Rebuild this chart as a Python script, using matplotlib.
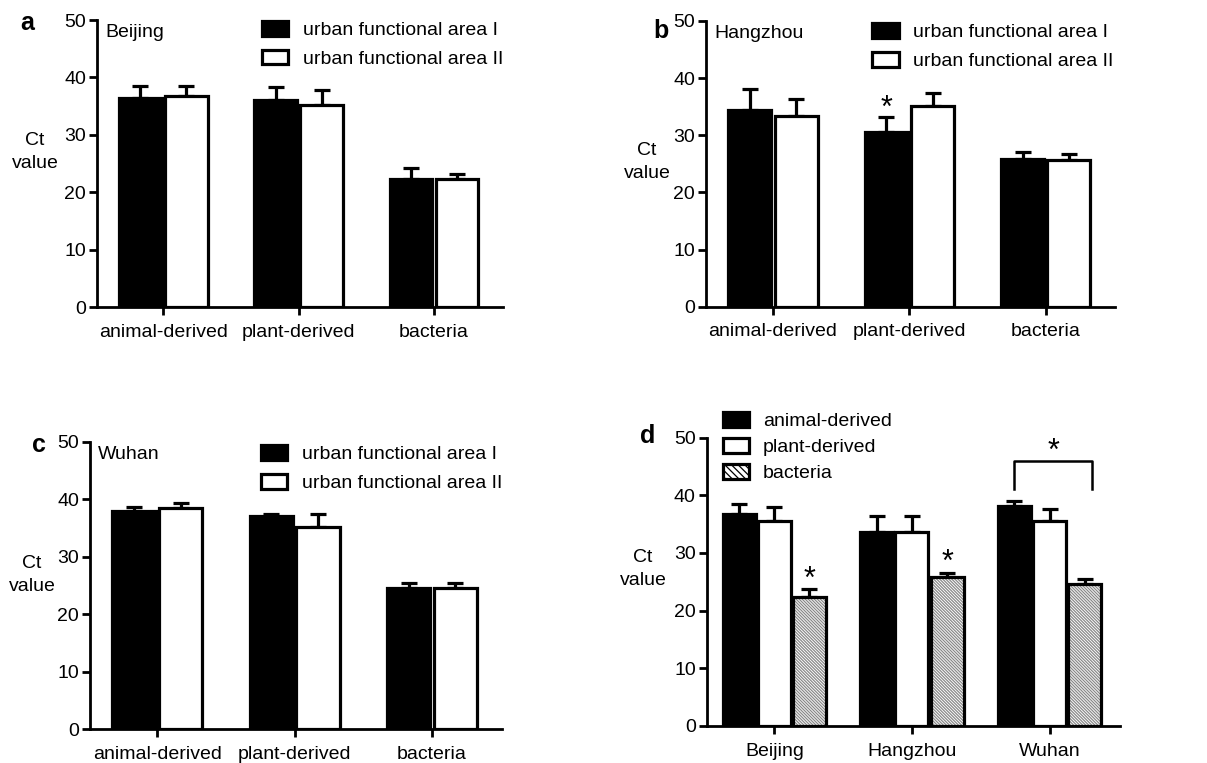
import numpy as np
import matplotlib
matplotlib.use("Agg")
import matplotlib.pyplot as plt
from matplotlib.patches import Patch

plt.rcParams['font.family'] = ['Liberation Sans', 'DejaVu Sans']
plt.rcParams['font.size'] = 14
plt.rcParams['hatch.linewidth'] = 0.9

# ── Podaci ───────────────────────────────────────────────────
tipovi = ["animal-derived", "plant-derived", "bacteria"]
gradovi = ["Beijing", "Hangzhou", "Wuhan"]
oblasti = ["urban functional area I", "urban functional area II"]

# Ct vrednosti (srednja vrednost) i gornja greska, po gradu: [oblast I, oblast II]
beijing_I = [36.4, 36.1, 22.3]
beijing_II = [36.7, 35.2, 22.3]
beijing_I_err = [2.1, 2.2, 1.9]
beijing_II_err = [1.8, 2.6, 0.9]

hangzhou_I = [34.4, 30.6, 25.9]
hangzhou_II = [33.3, 35.1, 25.7]
hangzhou_I_err = [3.6, 2.5, 1.1]
hangzhou_II_err = [3.0, 2.3, 1.0]

wuhan_I = [38.0, 37.1, 24.5]
wuhan_II = [38.4, 35.2, 24.6]
wuhan_I_err = [0.7, 0.3, 0.9]
wuhan_II_err = [0.9, 2.2, 0.9]

# panel d: po gradu, tri tipa
d_animal = [36.7, 33.7, 38.1]
d_plant = [35.6, 33.7, 35.6]
d_bacteria = [22.3, 25.8, 24.6]
d_animal_err = [1.7, 2.7, 0.9]
d_plant_err = [2.4, 2.7, 2.0]
d_bacteria_err = [1.4, 0.8, 0.8]

LW = 2.3
fig = plt.figure(figsize=(12.07, 7.63), dpi=100)
W, H = 1207.0, 763.0


def stil_osa(ax, labels, ct_pos):
    for s in ['top', 'right']:
        ax.spines[s].set_visible(False)
    for s in ['left', 'bottom']:
        ax.spines[s].set_linewidth(2)
    ax.set_ylim(0, 50)
    ax.set_yticks(range(0, 51, 10))
    x = np.arange(len(labels))
    ax.set_xticks(x)
    ax.set_xticklabels(labels)
    ax.tick_params(axis='y', width=2, length=6, pad=2)
    ax.tick_params(axis='x', width=2, length=6, pad=6)
    ax.set_xlim(-0.49, 2.51)
    ax.set_ylabel("Ct\nvalue", rotation=0, va='center', ha='center',
                  linespacing=1.45)
    ax.yaxis.set_label_coords(*ct_pos)


def slovo_panela(slovo, px, py):
    # px, py = leva ivica i bazna linija u pikselima
    fig.text(px / W, 1 - py / H, slovo, ha='left', va='baseline',
             fontsize=18, fontweight='bold')


def bar_sa_greskom(ax, x, vals, errs, w, boja):
    ax.errorbar(x, vals, yerr=[np.zeros(len(errs)), errs], fmt='none',
                ecolor='black', elinewidth=LW, capsize=6, capthick=LW, zorder=1)
    ax.bar(x, vals, width=w, color=boja, edgecolor='black', linewidth=LW, zorder=2)


def panel_grad(rect, grad, v1, v2, e1, e2, ct_pos, leg_anchor):
    ax = fig.add_axes(rect)
    x = np.arange(3)
    w = 0.315
    bar_sa_greskom(ax, x - 0.17, v1, e1, w, 'black')
    bar_sa_greskom(ax, x + 0.17, v2, e2, w, 'white')
    stil_osa(ax, tipovi, ct_pos)
    ax.text(0.02, 0.985, grad, transform=ax.transAxes, ha='left', va='top')
    handles = [Patch(facecolor='black', edgecolor='black', linewidth=LW),
               Patch(facecolor='white', edgecolor='black', linewidth=LW)]
    ax.legend(handles, oblasti, loc='upper right', bbox_to_anchor=leg_anchor,
              frameon=False, handlelength=1.35, handleheight=0.8,
              handletextpad=0.75, labelspacing=0.55, borderaxespad=0)
    return ax


axa = panel_grad([0.0804, 0.5976, 0.3364, 0.3761], "Beijing",
                 beijing_I, beijing_II, beijing_I_err, beijing_II_err,
                 (-0.153, 0.54), (1.02, 1.025))
axb = panel_grad([0.585, 0.598, 0.339, 0.3747], "Hangzhou",
                 hangzhou_I, hangzhou_II, hangzhou_I_err, hangzhou_II_err,
                 (-0.144, 0.506), (1.015, 1.02))
axc = panel_grad([0.0746, 0.0442, 0.3413, 0.377], "Wuhan",
                 wuhan_I, wuhan_II, wuhan_I_err, wuhan_II_err,
                 (-0.141, 0.536), (1.02, 1.015))

slovo_panela("a", 20, 30)
slovo_panela("b", 653, 38)
slovo_panela("c", 32, 452)
slovo_panela("d", 640, 443)

# zvezdica u b iznad plant-derived, oblast I
axb.text(1 - 0.17, 34.6, "*", ha='center', va='center', fontsize=22)

# ── Panel d ──────────────────────────────────────────────────
axd = fig.add_axes([0.5857, 0.0485, 0.342, 0.378])
x = np.arange(3)
w = 0.24
off = 0.255
bar_sa_greskom(axd, x - off, d_animal, d_animal_err, w, 'black')
bar_sa_greskom(axd, x, d_plant, d_plant_err, w, 'white')
axd.errorbar(x + off, d_bacteria, yerr=[np.zeros(3), d_bacteria_err], fmt='none',
             ecolor='black', elinewidth=LW, capsize=6, capthick=LW, zorder=1)
axd.bar(x + off, d_bacteria, width=w, color='white', edgecolor='#8a8a8a',
        hatch='\\' * 11, linewidth=0, zorder=2)
axd.bar(x + off, d_bacteria, width=w, fill=False, edgecolor='black',
        linewidth=LW, zorder=3)
stil_osa(axd, gradovi, (-0.155, 0.545))

h_d = [Patch(facecolor='black', edgecolor='black', linewidth=LW),
       Patch(facecolor='white', edgecolor='black', linewidth=LW),
       Patch(facecolor='white', edgecolor='black', linewidth=LW, hatch='\\' * 5)]
axd.legend(h_d, tipovi, loc='upper left', bbox_to_anchor=(0.02, 1.115),
           frameon=False, handlelength=1.35, handleheight=0.8,
           handletextpad=0.7, labelspacing=0.4, borderaxespad=0)

# zvezdice i zagrada
for i in [0, 1]:
    axd.text(i + off, d_bacteria[i] + d_bacteria_err[i] + 1.7, "*",
             ha='center', va='center', fontsize=22)
br_l, br_r = 2 - off, 2 + 0.31
axd.plot([br_l, br_l, br_r, br_r], [41.0, 46.0, 46.0, 41.0],
         color='black', lw=1.8, clip_on=False)
axd.text((br_l + br_r) / 2, 47.5, "*", ha='center', va='center', fontsize=22)

fig.savefig("out.png", dpi=100)
